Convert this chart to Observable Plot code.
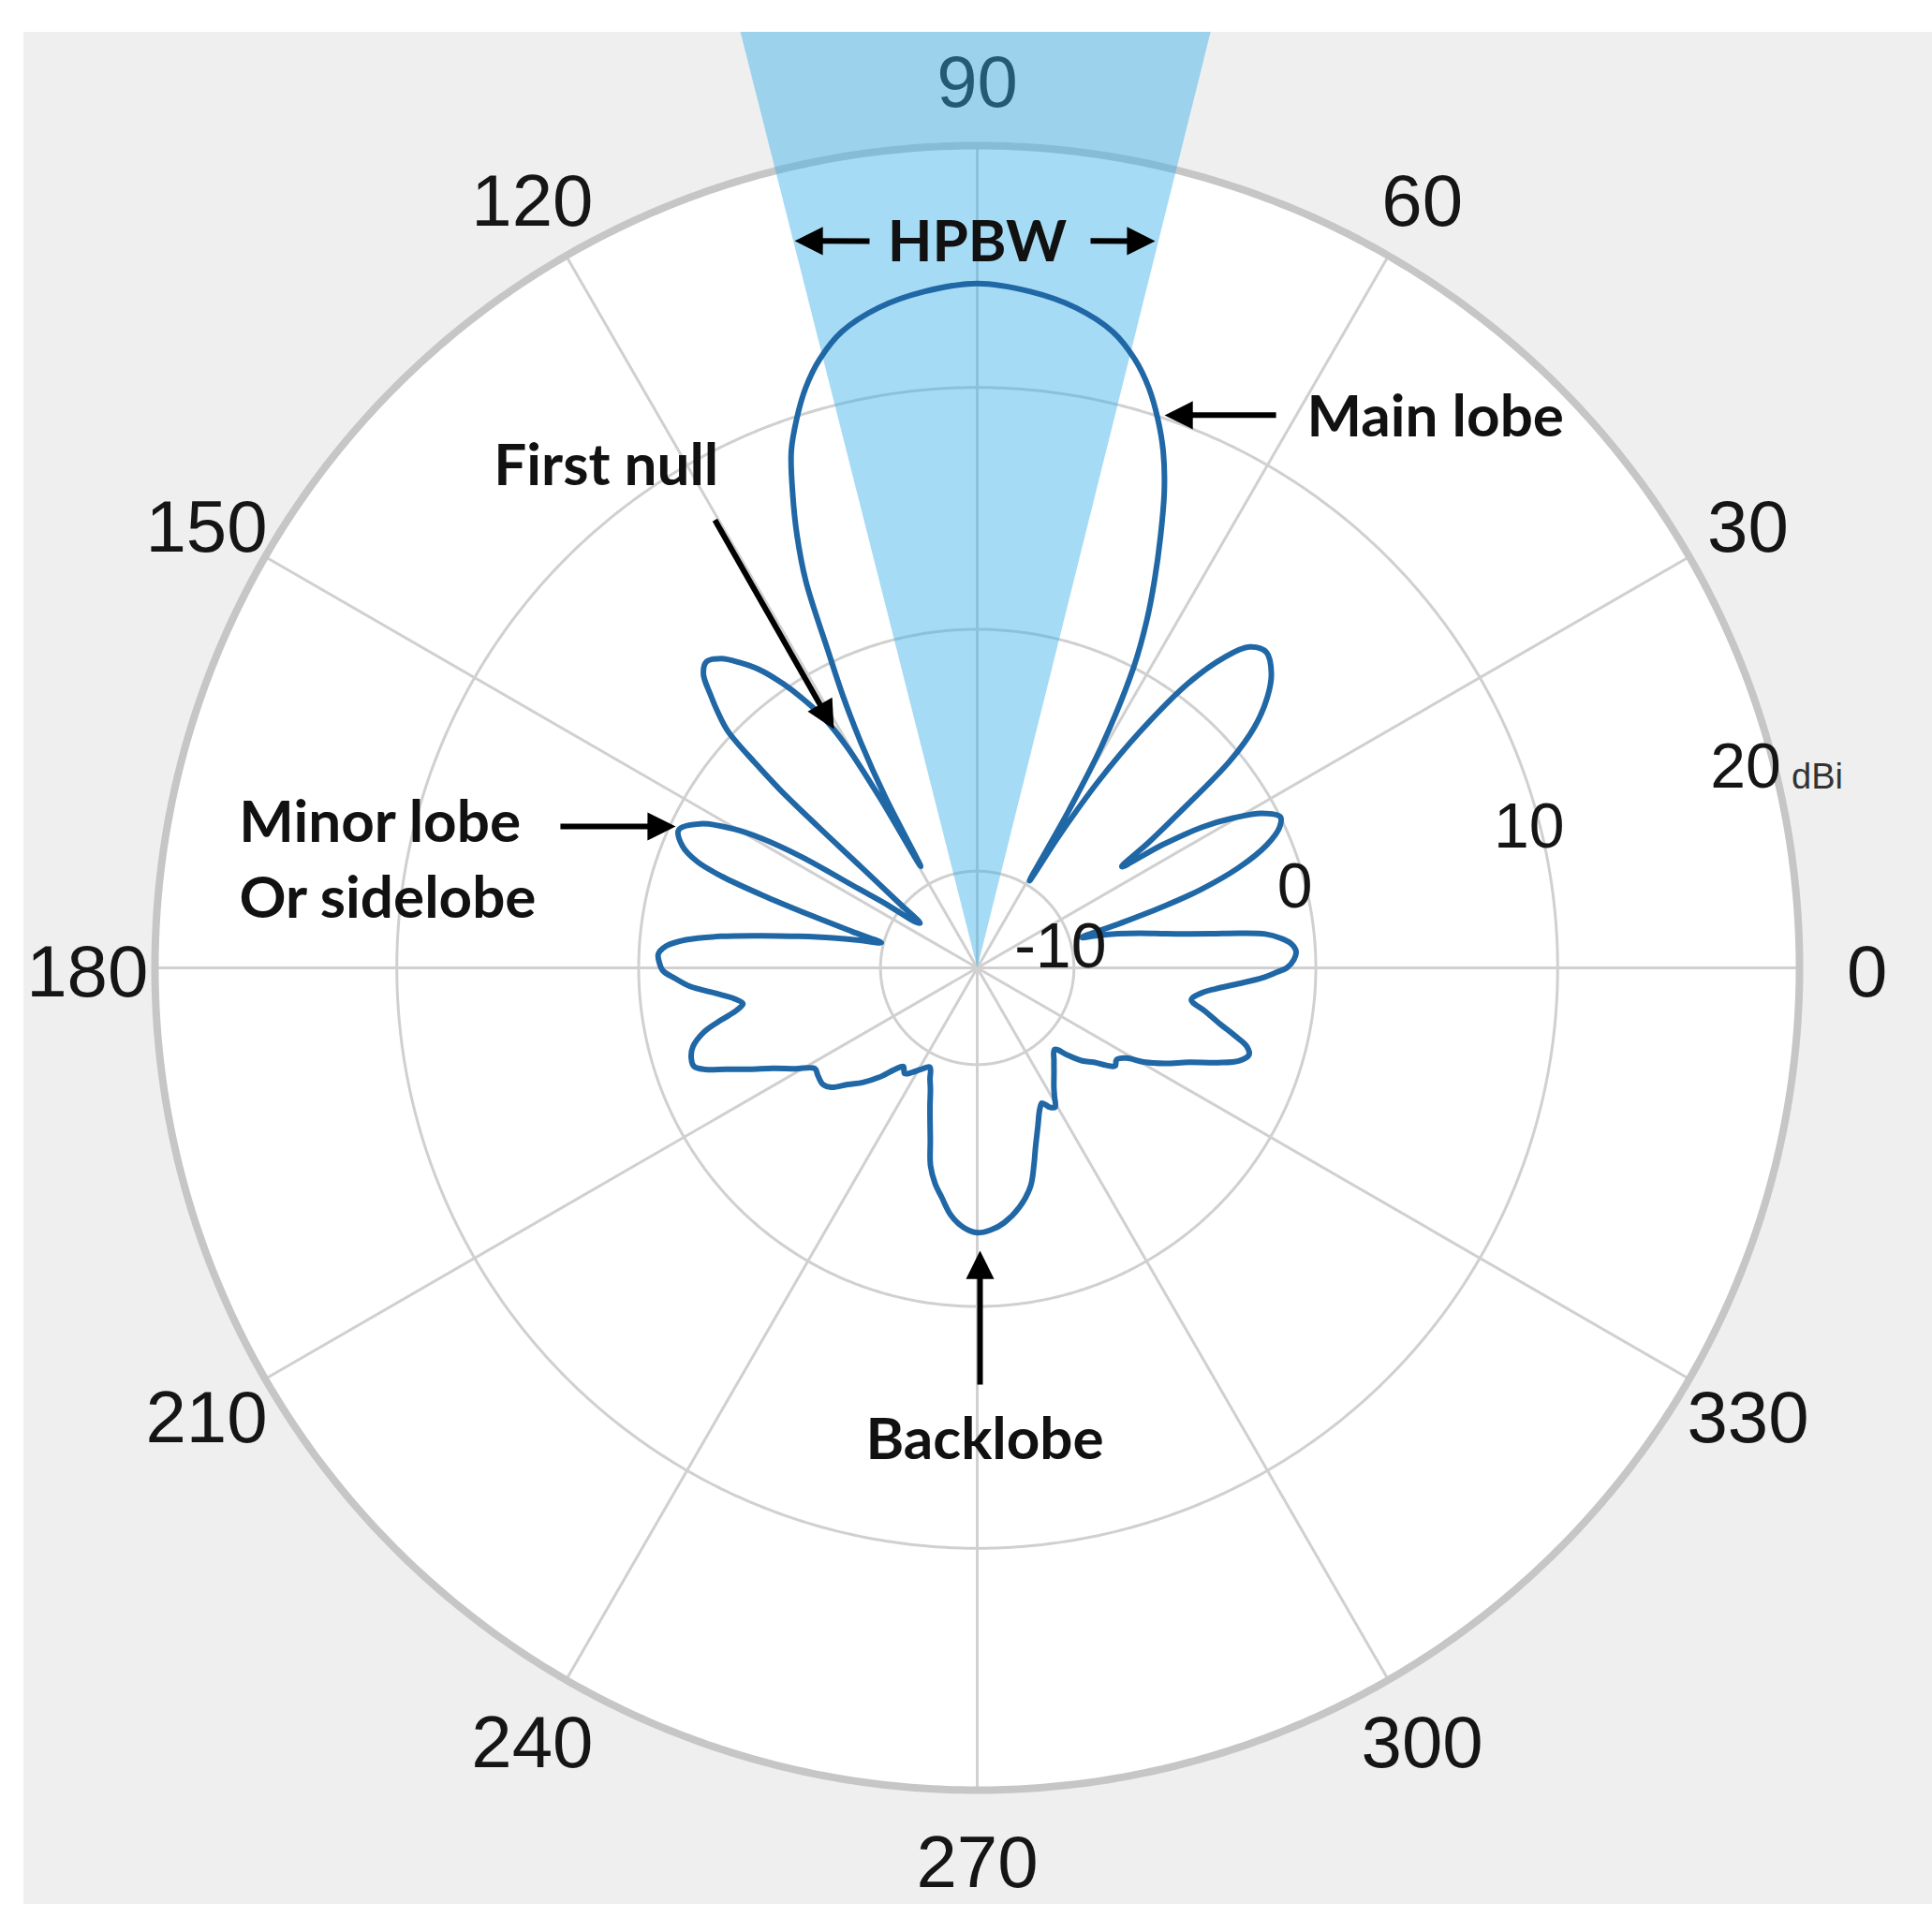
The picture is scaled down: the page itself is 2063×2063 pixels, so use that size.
<!DOCTYPE html>
<html>
<head>
<meta charset="utf-8">
<script src="https://cdn.jsdelivr.net/npm/d3@7"></script>
<script src="https://cdn.jsdelivr.net/npm/@observablehq/plot@0.6"></script>
<style>
  html, body { margin: 0; padding: 0; background: #ffffff; }
  #panel { position: absolute; left: 25px; top: 34px; width: 2038px; height: 1999px; overflow: hidden; background: #efefef; }
</style>
</head>
<body>
<div id="panel"></div>
<script>
// ---------- data ----------
const angleTicks = [0, 30, 60, 90, 120, 150, 180, 210, 240, 270, 300, 330];
const ringTicks = [-10, 0, 10, 20];
const rMin = -14;
const rMax = 20;
const unitLabel = "dBi";
const hpbw = [76, 104.2];           // half-power beam edges (degrees)

// radiation pattern: [angle in degrees, gain in dBi]
const pattern = [
  [0, -1.2], [1.5, -0.9], [3, -0.8], [4.5, -1.0], [5.6, -1.4], [6.7, -2.0], [7.5, -3.0],
  [8.3, -4.2], [9.2, -5.2], [10.3, -6.1], [12, -7.1], [13.6, -8.0], [15, -8.8], [16.2, -9.5],
  [17.3, -7.8], [18.3, -5.8], [19.3, -4.2], [21, -2.4], [23, -1.0], [25, -0.2], [26.5, 0.0],
  [28.5, -0.6], [30.3, -1.7], [32, -3.0], [33.6, -4.8], [35, -6.7], [36.2, -5.2], [37.5, -3.5],
  [39.3, -0.5], [41, 1.2], [43, 2.4], [45, 3.2], [47.5, 3.7], [49.7, 3.4], [51.5, 2.4],
  [53.5, 0.6], [55.4, -2.1], [57, -4.8], [58.2, -7.5], [59, -9.8], [59.8, -6.5], [60.7, -3.5],
  [62.5, 0.0], [64, 2.0], [65.4, 3.6], [67, 5.4], [68.6, 7.2], [70.2, 8.7], [71.8, 9.9],
  [73.5, 11.0], [75.5, 12.0], [78, 12.9], [81.5, 13.6], [85.5, 14.05], [90, 14.3],
  [94.5, 14.05], [98.5, 13.6], [102, 12.9], [104.5, 12.0], [106.5, 11.0], [108.2, 9.9],
  [109.8, 8.7], [111.3, 7.0], [112.6, 5.4], [113.9, 3.5], [115.2, 0.5], [116.3, -1.5],
  [117.3, -3.5], [118.3, -6.0], [119.1, -9.2], [119.8, -5.8], [120.5, -3.4], [121.5, -1.9],
  [123, -0.7], [124.3, 0.2], [126, 1.2], [127.9, 2.0], [129.6, 2.6], [131.5, 2.9], [133, 2.6],
  [134.3, 1.8], [135.5, 1.0], [136.5, 0.2], [137.3, -1.5], [137.9, -3.0], [138.4, -5.2],
  [139, -7.6], [140.3, -9.8], [142, -11.0], [143.5, -10.8], [145, -9.4], [146.3, -8.1],
  [147.7, -5.4], [149, -3.6], [150.3, -2.4], [152.5, -1.1], [155.2, -0.4], [157.5, -0.8],
  [159.2, -1.6], [160.3, -2.8], [161.4, -4.8], [162.5, -6.8], [163.8, -8.6], [165.3, -9.9],
  [166.8, -9.0], [168.3, -7.9], [170, -6.5], [171.5, -5.0], [173, -3.3], [174.5, -1.9],
  [176, -1.1], [177.5, -0.8], [179, -0.85], [180.5, -1.0], [182, -1.5], [183.7, -2.1],
  [185.5, -3.1], [187.3, -3.9], [188.7, -4.2], [190, -3.9], [191.5, -3.2], [193.2, -2.4],
  [195.5, -1.8], [197.5, -1.6], [199.2, -1.6], [200.5, -2.0], [202, -2.8], [204, -3.7],
  [206.2, -4.6], [209, -5.4], [211.8, -6.1], [214, -6.05], [217, -6.0], [219.3, -6.2],
  [222, -6.8], [225, -7.3], [228, -7.9], [231, -8.6], [233.2, -8.9], [235.5, -8.7],
  [238, -8.9], [241, -9.2], [244.5, -9.45], [247, -9.0], [249, -8.6], [251, -8.0],
  [252.8, -7.4], [254.8, -6.6], [256.7, -5.6], [259, -4.9], [261.2, -4.4], [264, -3.7],
  [267, -3.25], [270, -3.05], [273, -3.15], [276, -3.4], [280, -3.95], [283.7, -4.7],
  [286, -5.5], [288, -6.2], [291, -7.0], [293.8, -7.6], [295.6, -7.8], [297.5, -7.5],
  [299.2, -7.4], [301, -7.8], [302.8, -8.15], [306, -8.6], [309.4, -9.0], [313.5, -9.35],
  [316, -8.8], [318.5, -8.2], [321, -7.8], [323, -7.3], [324.6, -7.0], [326.6, -7.1],
  [328.8, -6.8], [330.5, -6.1], [333, -5.3], [336, -4.4], [338.5, -3.3], [340.5, -2.5],
  [342.3, -2.2], [343.8, -2.4], [345.3, -3.0], [347, -3.7], [349.2, -4.4], [351.5, -5.05],
  [353.5, -4.7], [355, -4.1], [356.5, -3.2], [358, -2.2], [359.2, -1.6]
];

// annotation labels, anchored in chart coordinates (angle in degrees, radius in dBi)
const noteLabels = [
  {label: "HPBW", angle: 90, r: 15.98, anchor: "middle"},
  {label: "Main lobe", angle: 59.05, r: 12.51, anchor: "start"},
  {label: "First null", angle: 133.97, r: 14.79, anchor: "start"},
  {label: "Minor lobe", angle: 168.94, r: 17.1, anchor: "start"},
  {label: "Or sidelobe", angle: 174.71, r: 16.65, anchor: "start"},
  {label: "Backlobe", angle: 270.91, r: 5.56, anchor: "middle"}
];
// annotation arrows: tail and tip as [angle, dBi]
const noteArrows = [
  {tail: [98.43, 16.38], tip: [104.1, 16.99]},
  {tail: [81.14, 16.42], tip: [76.24, 16.94]},
  {tail: [61.6, 11.98], tip: [71.27, 10.13]},
  {tail: [120.36, 7.46], tip: [120.96, -2.48]},
  {tail: [161.26, 4.2], tip: [154.88, -0.23]},
  {tail: [270.39, 3.23], tip: [270.57, -2.30]}
];

// ---------- helpers (polar chart coordinates -> sphere lon/lat for the projection) ----------
const K = 0.1;                       // degrees of arc per dB
const lon = (a) => a + 90;           // angle 0 to the right, counter-clockwise
const lat = (v) => 90 - (v - rMin) * K;
const toXY = ([a, v]) => [(v - rMin) * Math.cos(a * Math.PI / 180), (v - rMin) * Math.sin(a * Math.PI / 180)];
const toPolar = ([x, y]) => [Math.atan2(y, x) * 180 / Math.PI, Math.hypot(x, y) + rMin];
const headBack = 0.85;               // shaft stops inside the head (dB units)
const shaftEnd = (d) => {
  const p = toXY(d.tail), q = toXY(d.tip);
  const L = Math.hypot(q[0] - p[0], q[1] - p[1]);
  return toPolar([q[0] - (q[0] - p[0]) / L * headBack, q[1] - (q[1] - p[1]) / L * headBack]);
};
const headRotate = (d) => {
  const p = toXY(d.tail), q = toXY(d.tip);
  return Math.atan2(q[0] - p[0], q[1] - p[1]) * 180 / Math.PI;
};
const arrowHead = {
  draw(context, size) {
    const s = Math.sqrt(size);
    context.moveTo(0, 0);
    context.lineTo(-s * 0.5, s);
    context.lineTo(s * 0.5, s);
    context.closePath();
  }
};
const circle = (v) => d3.geoCircle().center([0, 90]).radius((v - rMin) * K).precision(0.5)();

const tickFont = "'Liberation Sans', Arial, Helvetica, sans-serif";
const noteFont = "Lato, 'Open Sans', sans-serif";
const labelAngle = 14.3;

const chart = Plot.plot({
  width: 2038,
  height: 1999,
  marginLeft: 140,
  marginRight: 142,
  marginTop: 121,
  marginBottom: 122,
  style: {background: "#efefef", overflow: "hidden"},
  projection: {
    type: "azimuthal-equidistant",
    rotate: [0, -90],
    clip: false,
    domain: circle(rMax)
  },
  marks: [
    // white plotting disc
    Plot.geo([rMax], {geometry: circle, fill: "white", stroke: "none"}),
    // angular spokes
    Plot.link(angleTicks, {
      x1: (d) => lon(d), y1: 90, x2: (d) => lon(d), y2: lat(rMax),
      stroke: "#d0d0d0", strokeWidth: 3
    }),
    // radial rings
    Plot.geo(ringTicks.filter((t) => t < rMax), {geometry: circle, fill: "none", stroke: "#d0d0d0", strokeWidth: 3}),
    Plot.geo([rMax], {geometry: circle, fill: "none", stroke: "#c6c6c6", strokeWidth: 8}),
    // angle labels
    Plot.text(angleTicks, {
      x: (d) => lon(d), y: lat(22.8), text: (d) => String(d), dy: 6,
      fontSize: 78, fontFamily: tickFont, fill: "#151515"
    }),
    // half-power beamwidth wedge
    Plot.geo([hpbw], {
      geometry: ([a1, a2]) => ({
        type: "Polygon",
        coordinates: [[
          [lon(a1), lat(rMin + 0.001)],
          [lon(a2), lat(rMin + 0.001)],
          [lon(a2), lat(32)],
          [lon(a1), lat(32)],
          [lon(a1), lat(rMin + 0.001)]
        ]]
      }),
      fill: "#3ab0e9", fillOpacity: 0.45, stroke: "none"
    }),
    // radiation pattern
    Plot.line(pattern, {
      x: (d) => lon(d[0]), y: (d) => lat(d[1]),
      curve: "catmull-rom-closed",
      stroke: "#2067a6", strokeWidth: 6, strokeLinejoin: "round"
    }),
    // radial tick labels
    Plot.text(ringTicks.filter((t) => t < rMax), {
      x: lon(labelAngle), y: (d) => lat(d - 0.45), text: (d) => String(d),
      fontSize: 68, fontFamily: tickFont, fill: "#151515"
    }),
    Plot.text([rMax], {
      x: lon(labelAngle), y: (d) => lat(d - 0.45), text: (d) => String(d), dx: -19,
      fontSize: 68, fontFamily: tickFont, fill: "#151515"
    }),
    Plot.text([rMax], {
      x: lon(labelAngle), y: (d) => lat(d - 0.45), text: () => unitLabel,
      dx: 30, dy: 10, textAnchor: "start",
      fontSize: 38, fontFamily: tickFont, fill: "#333333"
    }),
    // annotations
    Plot.link(noteArrows, {
      x1: (d) => lon(d.tail[0]), y1: (d) => lat(d.tail[1]),
      x2: (d) => lon(shaftEnd(d)[0]), y2: (d) => lat(shaftEnd(d)[1]),
      stroke: "#000", strokeWidth: 6
    }),
    Plot.dot(noteArrows, {
      x: (d) => lon(d.tip[0]), y: (d) => lat(d.tip[1]),
      symbol: arrowHead, r: 17, rotate: headRotate,
      fill: "#000", stroke: "none"
    }),
    Plot.text(noteLabels.filter((d) => d.anchor === "start"), {
      x: (d) => lon(d.angle), y: (d) => lat(d.r), text: "label", textAnchor: "start",
      fontSize: 62, fontWeight: "bold", fontFamily: noteFont, fill: "#111"
    }),
    Plot.text(noteLabels.filter((d) => d.anchor === "middle"), {
      x: (d) => lon(d.angle), y: (d) => lat(d.r), text: "label", textAnchor: "middle",
      fontSize: 62, fontWeight: "bold", fontFamily: noteFont, fill: "#111"
    })
  ]
});
document.getElementById("panel").append(chart);
</script>
</body>
</html>
